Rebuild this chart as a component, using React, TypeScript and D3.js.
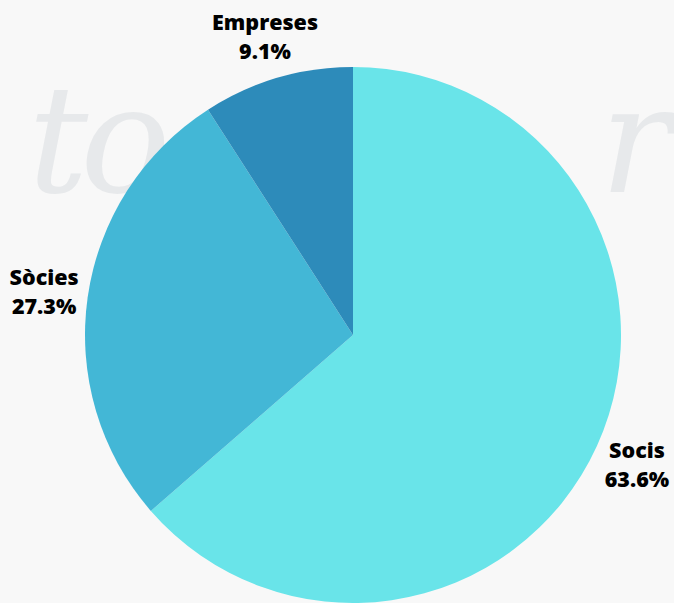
import * as d3 from 'd3';

const categories = ['Socis', 'Sòcies', 'Empreses'];
const values = [63.6, 27.3, 9.1];
const colors = ['#69e4e9', '#43b7d6', '#2d8bba'];

export default function App() {
  const width = 674;
  const height = 603;
  const cx = 353;
  const cy = 335;
  const radius = 268;

  const data = categories.map((c, i) => ({ name: c, value: values[i], color: colors[i] }));
  const pie = d3
    .pie<{ name: string; value: number; color: string }>()
    .sort(null)
    .value((d) => d.value);
  const arcs = pie(data);
  const arc = d3.arc<d3.PieArcDatum<any>>().innerRadius(0).outerRadius(radius);
  const labelArc = d3.arc<d3.PieArcDatum<any>>().innerRadius(312).outerRadius(312);

  return (
    <svg
      width={width}
      height={height}
      style={{ position: 'fixed', top: 0, left: 0, background: '#f8f8f8' }}
    >
      {/* faint watermark */}
      <g fontFamily="'DejaVu Serif', serif" fontStyle="italic" fontSize={150} fill="#e7e9eb">
        <text x={28} y={192} letterSpacing={-8}>to</text>
        <text x={600} y={192}>r</text>
      </g>
      <g transform={`translate(${cx},${cy})`}>
        {arcs.map((a) => (
          <path key={a.data.name} d={arc(a) ?? ''} fill={a.data.color} />
        ))}
        {arcs.map((a) => {
          const [x, y] = labelArc.centroid(a);
          return (
            <text
              key={a.data.name + '-l'}
              x={x}
              y={y}
              textAnchor="middle"
              fontFamily="'Open Sans', sans-serif"
              fontWeight={800}
              fontSize={21.5}
              fill="#000"
            >
              <tspan x={x} dy={-6}>{a.data.name}</tspan>
              <tspan x={x} dy={29}>{`${a.data.value.toFixed(1)}%`}</tspan>
            </text>
          );
        })}
      </g>
    </svg>
  );
}
